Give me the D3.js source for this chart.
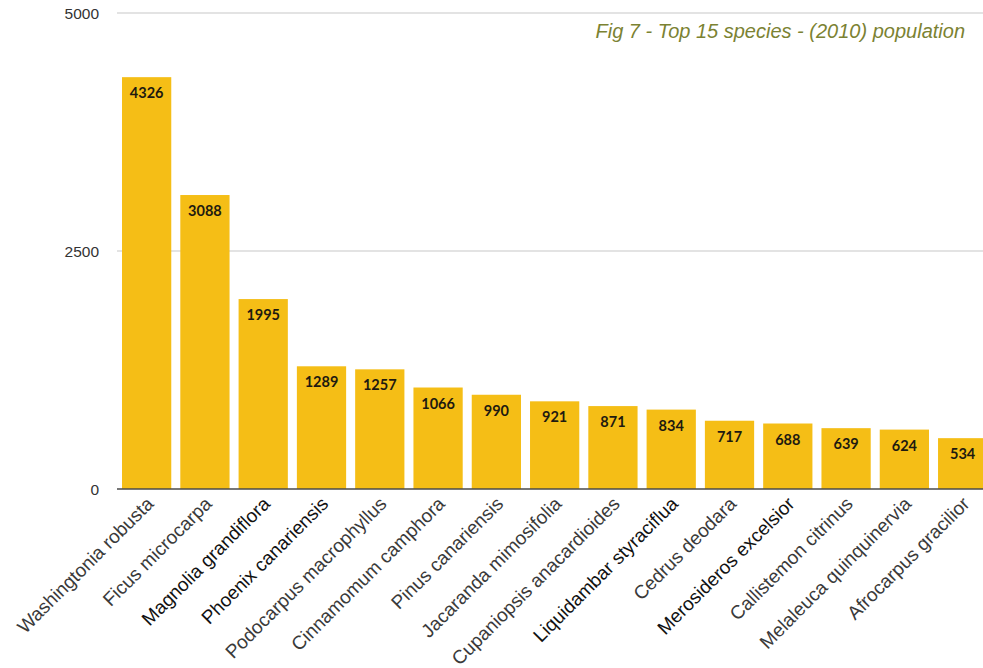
<!DOCTYPE html>
<html>
<head>
<meta charset="utf-8">
<script src="https://cdn.jsdelivr.net/npm/d3@7"></script>
<style>
  html, body { margin: 0; padding: 0; background: #ffffff; }
  svg { display: block; }
</style>
</head>
<body>
<svg id="chart" width="983" height="668"></svg>
<script>
// Top 15 species by 2010 population
const species = [
  "Washingtonia robusta", "Ficus microcarpa", "Magnolia grandiflora",
  "Phoenix canariensis", "Podocarpus macrophyllus", "Cinnamomum camphora",
  "Pinus canariensis", "Jacaranda mimosifolia", "Cupaniopsis anacardioides",
  "Liquidambar styraciflua", "Cedrus deodara", "Merosideros excelsior",
  "Callistemon citrinus", "Melaleuca quinquinervia", "Afrocarpus gracilior"
];
const population = [4326, 3088, 1995, 1289, 1257, 1066, 990, 921, 871, 834, 717, 688, 639, 624, 534];
const yTicks = [0, 2500, 5000];
const titleText = "Fig 7 - Top 15 species - (2010) population";

// names set in a heavier ink on the axis
const emphasised = new Set(["Magnolia grandiflora", "Phoenix canariensis",
  "Liquidambar styraciflua", "Merosideros excelsior"]);

const svg = d3.select("#chart");
const W = 983, H = 668;

const y = d3.scaleLinear().domain([0, 5000]).range([489, 13]);
const x = d3.scaleBand()
  .domain(species)
  .range([117, 992.3])
  .paddingInner(0.155)
  .paddingOuter(0.086);

// gridlines
svg.append("g")
  .selectAll("line")
  .data(yTicks.filter(t => t > 0))
  .join("line")
  .attr("x1", 117).attr("x2", W)
  .attr("y1", d => y(d)).attr("y2", d => y(d))
  .attr("stroke", "#c8c8c8").attr("stroke-width", 1.2);

// y tick labels
svg.append("g")
  .selectAll("text")
  .data(yTicks)
  .join("text")
  .attr("x", 99)
  .attr("y", d => y(d) + 1)
  .attr("dy", "0.35em")
  .attr("text-anchor", "end")
  .attr("font-family", "Liberation Sans, Arial, sans-serif")
  .attr("font-size", 15.5)
  .attr("fill", "#333")
  .text(d => d);

// bars
svg.append("g")
  .selectAll("rect")
  .data(population)
  .join("rect")
  .attr("x", (d, i) => x(species[i]))
  .attr("y", d => y(d))
  .attr("width", x.bandwidth())
  .attr("height", d => y(0) - y(d))
  .attr("fill", "#f5be16");

// value labels inside the bars
svg.append("g")
  .selectAll("text")
  .data(population)
  .join("text")
  .attr("x", (d, i) => x(species[i]) + x.bandwidth() / 2)
  .attr("y", d => y(d) + 21)
  .attr("text-anchor", "middle")
  .attr("font-family", "Lato, sans-serif")
  .attr("font-weight", "bold")
  .attr("font-size", 14.5)
  .attr("fill", "#1e1a10")
  .text(d => d);

// baseline
svg.append("line")
  .attr("x1", 117).attr("x2", W)
  .attr("y1", y(0)).attr("y2", y(0))
  .attr("stroke", "#4a4a4a").attr("stroke-width", 1.5);

// category labels, rotated
svg.append("g")
  .selectAll("text")
  .data(species)
  .join("text")
  .attr("transform", d => `translate(${x(d) + x.bandwidth() / 2 + 8},${505}) rotate(-45)`)
  .attr("text-anchor", "end")
  .attr("font-family", "Liberation Sans, Arial, sans-serif")
  .attr("font-size", 19)
  .attr("fill", d => emphasised.has(d) ? "#111" : "#3a3a3a")
  .text(d => d);

// title
svg.append("text")
  .attr("x", 965)
  .attr("y", 38)
  .attr("text-anchor", "end")
  .attr("font-family", "Liberation Sans, Arial, sans-serif")
  .attr("font-style", "italic")
  .attr("font-size", 20)
  .attr("fill", "#7b8232")
  .text(titleText);
</script>
</body>
</html>
